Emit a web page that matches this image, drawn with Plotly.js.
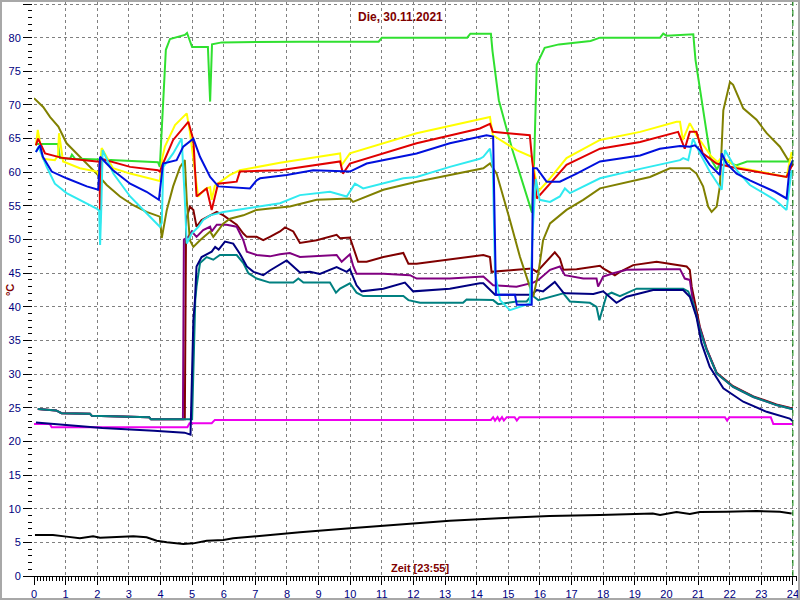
<!DOCTYPE html>
<html><head><meta charset="utf-8">
<script src="https://cdn.plot.ly/plotly-3.0.1.min.js"></script>
<style>
html,body{margin:0;padding:0;background:#fff}
#wrap{position:relative;width:800px;height:600px}
#chart{width:800px;height:600px}
#frame{position:absolute;left:0;top:0;width:800px;height:600px;box-sizing:border-box;border:2px solid #a8a8a8;pointer-events:none}
</style>
</head><body><div id="wrap"><div id="chart"></div><div id="frame"></div></div>
<script>
// Time in hours, temperature in °C
const titleText = 'Die, 30.11.2021';
const xLabel = 'Zeit [23:55]';
const yLabel = '°C';
const nowHour = 24;
const xTicks = [0,1,2,3,4,5,6,7,8,9,10,11,12,13,14,15,16,17,18,19,20,21,22,23,24];

const green = [[0.06,64.2],[0.76,64.2],[0.82,62.1],[1.14,62.0],[1.2,62.6],[1.3,62.0],[2.09,61.9],[3.92,61.5],[3.98,60.8],[4.05,68],[4.17,78.2],[4.3,79.8],[4.77,80.4],[4.84,80.7],[5.0,78.6],[5.5,78.6],[5.57,70.5],[5.63,79.0],[5.94,79.3],[8.41,79.4],[10.9,79.4],[11.0,80.0],[13.7,80.0],[13.8,80.6],[14.45,80.6],[14.5,78],[14.7,70.7],[15.13,63.3],[15.58,56.3],[15.75,54.0],[15.82,62],[15.9,76],[16.15,78.5],[16.6,79],[17.6,79.5],[17.9,80],[19.8,80],[19.9,80.6],[20.0,80.3],[20.85,80.5],[20.92,76.7],[21.4,62],[21.6,60.4],[21.75,62],[22.2,61],[22.55,61.6],[23.9,61.6]];
const yellow = [[0.06,64],[0.12,66.3],[0.28,62],[0.66,61.8],[0.76,62.5],[0.79,65.8],[0.92,61.6],[1.45,60.6],[1.99,60.1],[2.06,59.5],[2.14,63.6],[2.5,60.6],[3.04,59.8],[3.56,59.2],[3.98,58.7],[4.05,62],[4.14,63.8],[4.46,67],[4.83,68.75],[4.93,66],[5.19,56.4],[5.41,57.5],[5.57,57.8],[5.62,55.9],[5.72,58],[6.2,59.6],[6.51,60.3],[7.78,61.4],[9.68,62.8],[9.72,61],[9.99,62.8],[12.1,65.8],[14.1,67.8],[14.42,68.2],[14.51,65.5],[15.26,63.3],[15.74,62.3],[15.94,57.1],[16.32,59.1],[16.84,62.1],[17.9,64.8],[19.17,66],[20.32,67.5],[20.43,67.5],[20.52,64.8],[20.74,67.3],[20.95,65.5],[21.43,62.3],[21.63,61.5],[21.75,62.3],[22.22,60.8],[23.8,59.3],[23.96,63]];
const red = [[0.06,64],[0.13,65],[0.35,62.8],[0.92,62.1],[1.99,61.6],[2.07,61.6],[2.09,52.4],[2.12,62],[3.04,60.8],[3.92,60.3],[3.98,60.1],[4.08,61.3],[4.4,64.8],[4.88,67.5],[5.04,64.8],[5.14,56.4],[5.46,57.6],[5.62,54.4],[5.82,58.3],[6.41,58.6],[6.51,60.1],[7.78,60.3],[9.68,61.6],[9.77,59.8],[9.99,61.3],[12.1,64.3],[14.1,66.5],[14.42,67.2],[14.51,66],[15.68,65.5],[15.75,62],[15.9,56.1],[16.32,58.3],[16.84,61.1],[17.9,63.5],[19.17,64.5],[20.37,66],[20.58,63.5],[20.74,66],[20.95,66],[21.15,62.8],[21.59,61.3],[22.22,60.6],[23.8,59.3],[24.0,61.3]];
const blue = [[0.06,63],[0.19,64],[0.28,62.3],[0.56,60.1],[1.03,59.1],[1.67,57.9],[2.03,57.4],[2.09,62.3],[2.15,62],[2.5,60.3],[3.04,58.3],[3.56,57.1],[3.95,55.9],[4.08,61.3],[4.51,61.8],[4.72,63.8],[5.04,65],[5.25,62.3],[5.57,59.3],[5.83,57.9],[6.83,57.6],[7.04,58.8],[7.15,59.1],[7.99,59.6],[8.83,60.3],[9.99,60.1],[10.52,61.3],[12.1,62.8],[13.15,64.3],[14.31,65.5],[14.52,65.3],[14.61,41.8],[15.21,41.8],[15.27,40.3],[15.74,40.3],[15.78,60.6],[15.9,60.6],[16.21,58.6],[16.63,58.6],[17.16,59.8],[17.9,61.6],[19.17,62.5],[19.79,63.5],[20.43,63.9],[20.74,63.8],[20.9,64],[21.06,63.3],[21.37,61.1],[21.69,59.6],[21.75,62.8],[21.9,61.3],[22.22,59.8],[22.64,58.8],[23.06,57.9],[23.43,57.1],[23.8,56.1],[23.9,60.8],[24.0,61.8]];
const cyan = [[0.06,63],[0.14,63.8],[0.4,60.8],[0.66,58.3],[1.03,56.9],[1.45,55.9],[1.98,54.6],[2.06,54.3],[2.09,49.2],[2.13,55],[2.17,63.3],[2.51,59.8],[3.04,56.4],[3.56,53.9],[3.98,51.9],[4.04,52.5],[4.09,60.8],[4.4,62.8],[4.67,65],[4.77,55.9],[4.83,49.4],[4.99,50.9],[5.2,51.9],[5.35,52.9],[5.57,53.6],[5.99,54.1],[6.73,54.6],[7.78,55.4],[8.41,56.6],[9.36,57.1],[9.89,56.4],[10.15,58.3],[10.41,57.6],[11.68,59.1],[12.1,59.3],[13.15,60.8],[14.1,62],[14.21,62.3],[14.42,63.5],[14.51,60.8],[14.58,45],[14.74,41],[15.05,39.5],[15.37,40],[15.68,40.5],[15.78,52],[15.87,59],[15.99,55.9],[16.32,55.6],[16.63,56.4],[16.79,57.6],[16.95,56.9],[17.9,59.1],[19.17,60.5],[20.11,61.5],[20.43,61.8],[20.53,62.1],[20.69,61.8],[20.84,65],[21.06,62.8],[21.37,60.1],[21.75,57.4],[21.85,63.3],[22.22,60.3],[22.64,58.1],[23.06,56.9],[23.43,55.9],[23.8,54.4],[23.96,60.3]];
const olive = [[0,71],[0.29,69.7],[0.51,68.2],[0.77,66.8],[1.03,64.3],[1.45,62.3],[1.98,59.8],[2.3,58.1],[2.72,56.4],[3.14,55.1],[3.56,54.1],[3.98,53.4],[4.04,50.2],[4.2,54.4],[4.4,57.9],[4.62,60.8],[4.77,61.8],[4.83,55.9],[4.93,49.9],[5.04,48.9],[5.25,49.9],[5.57,51.2],[5.67,50.4],[5.99,52.4],[6.2,53.1],[6.62,53.6],[7.04,54.4],[7.46,54.6],[8.09,54.9],[8.94,55.9],[9.99,56.1],[10.09,55.6],[11.05,57.4],[12.1,58.6],[13.15,59.6],[14.21,60.6],[14.42,61.3],[14.63,59.8],[15.05,52.9],[15.37,47.4],[15.68,43],[15.79,41.5],[15.95,45],[16.1,49.9],[16.32,52.4],[16.84,54.4],[17.37,55.9],[17.9,57.6],[19.48,59.3],[20.11,60.6],[20.74,60.6],[20.95,59.8],[21.16,57.9],[21.32,54.9],[21.43,54.1],[21.59,54.9],[21.69,57.9],[21.8,69.2],[22.01,73.4],[22.11,73],[22.43,69.5],[22.85,67.8],[23.17,65.8],[23.59,63.8],[23.85,61.8],[24.0,62.3]];
const maroon = [[0.12,24.8],[0.7,24.6],[0.87,24.2],[1.77,24.1],[1.83,23.8],[3.64,23.6],[3.7,23.3],[4.77,23.3],[4.81,53],[4.93,54.9],[5.04,54.4],[5.14,51.9],[5.3,52.9],[5.57,53.6],[5.78,54.1],[5.99,53.6],[6.2,52.9],[6.41,52.2],[6.62,50.9],[6.73,50.4],[7.04,50.4],[7.25,49.9],[7.46,50.4],[7.78,51.2],[7.94,51.8],[8.2,51.2],[8.41,49.5],[8.94,49.9],[9.57,50.7],[9.68,50.2],[9.99,50.3],[10.25,46.7],[10.52,46.7],[11.05,47.4],[11.68,48],[11.84,46.4],[12.1,46.4],[13.15,47.1],[14.21,47.7],[14.42,47.4],[14.47,45.2],[15.26,45.5],[15.74,45.7],[15.9,45.2],[16.1,46.2],[16.47,48.1],[16.63,47.2],[16.74,45.5],[17.16,45.6],[17.9,46.1],[18.0,45.7],[18.37,44.7],[18.53,45.2],[18.95,46.2],[19.69,46.7],[20.43,46.2],[20.64,46],[20.74,45.5],[20.8,43],[21.06,37],[21.27,33.8],[21.59,30.2],[22.11,28.2],[22.75,26.7],[23.48,25.5],[23.9,25.0],[24.0,24.9]];
const purple = [[0.12,24.8],[0.7,24.6],[0.87,24.2],[1.77,24.1],[1.83,23.8],[3.64,23.6],[3.7,23.3],[4.71,23.3],[4.74,50],[4.88,50.4],[4.99,51.2],[5.14,50.4],[5.35,51.4],[5.57,51.9],[5.62,51.2],[5.78,52.2],[6.09,52.2],[6.41,51.9],[6.62,49.9],[6.73,48.2],[7.04,47.7],[7.46,47.5],[7.78,47.8],[8.09,48],[8.41,47.4],[9.57,47.7],[9.73,46.7],[9.99,47.8],[10.1,46],[10.2,44.9],[11.05,44.9],[11.89,44.7],[12.1,44.2],[13.15,44.2],[14.21,44.5],[14.52,43.2],[15.26,43],[15.79,43.6],[15.95,44],[16.32,45.5],[16.63,46],[16.79,44.7],[17.37,44.2],[17.79,44.2],[17.84,43],[18.0,44.5],[18.32,45],[18.74,45.5],[19.79,45.6],[20.43,45.6],[20.58,44.2],[20.74,44],[20.85,40.5],[21.06,36.8],[21.27,33.7],[21.59,30.1],[22.11,28.1],[22.75,26.6],[23.48,25.4],[23.9,24.9],[24.0,24.8]];
const navy = [[0.06,22.8],[1.03,22.4],[2.16,22.0],[3.79,21.6],[4.76,21.3],[4.95,21.0],[5.04,38],[5.09,41],[5.14,46],[5.3,47.4],[5.62,48.2],[5.73,48.9],[5.84,48.5],[6.04,49.7],[6.3,49.4],[6.51,47.9],[6.73,46],[6.94,45.2],[7.25,44.7],[7.46,45.4],[7.99,46.9],[8.41,45.1],[8.73,45.2],[9.04,44.9],[9.57,45.9],[9.89,45.2],[9.99,45.6],[10.2,43.2],[10.36,42.3],[11.05,42.7],[11.73,43.6],[11.99,42.3],[13.15,42.7],[14.1,43.5],[14.21,43.5],[14.58,41.8],[15.74,41.8],[15.9,42.5],[16.1,42.3],[16.47,43.7],[16.74,42.1],[16.84,42],[17.69,41.9],[18.0,42.3],[18.21,41.4],[18.42,40.6],[18.74,41.5],[19.58,42.5],[20.53,42.5],[20.74,41.5],[20.95,38.5],[21.11,34.6],[21.37,31.1],[21.8,27.9],[22.43,25.9],[23.17,24.4],[23.9,23.4],[24.0,23.0]];
const teal = [[0.12,24.8],[0.7,24.6],[0.87,24.2],[1.77,24.1],[1.83,23.8],[3.64,23.6],[3.7,23.3],[5.0,23.3],[5.1,41],[5.14,43],[5.25,46.5],[5.46,47.4],[5.67,47],[5.88,47.7],[6.41,47.7],[6.62,46.5],[6.78,45],[7.04,44.2],[7.46,43.6],[8.2,43.6],[8.36,44.2],[8.52,43.6],[9.36,43.6],[9.55,42.1],[9.68,42.7],[9.99,43.5],[10.2,42.1],[10.41,41.6],[11.68,41.6],[11.84,41],[12.21,40.6],[13.57,40.6],[13.68,41.1],[14.1,41.1],[14.52,41],[14.68,40.4],[15.26,40.8],[15.58,40.8],[15.74,41.75],[15.95,41],[16.32,41.5],[16.74,42],[16.95,40.8],[17.58,40.6],[17.79,40],[17.88,38],[18.0,40],[18.11,41.75],[18.27,42.1],[18.53,41.6],[19.06,42.7],[20.53,42.7],[20.69,42.3],[20.85,40.5],[21.06,36.6],[21.27,33.6],[21.59,30.1],[22.11,28.1],[22.75,26.6],[23.48,25.4],[23.9,24.9],[24.0,24.8]];
const magenta = [[0.0,22.6],[0.5,22.6],[0.56,22.1],[4.85,22.1],[4.92,22.7],[5.62,22.7],[5.72,23.2],[14.45,23.2],[14.52,23.6],[14.58,23.1],[14.66,23.6],[14.72,23.1],[14.8,23.6],[14.86,23.1],[14.95,23.6],[15.2,23.6],[15.27,23.1],[15.35,23.6],[21.85,23.6],[21.92,23.1],[21.99,23.6],[23.3,23.6],[23.38,22.6],[24.0,22.6]];
const black = [[0.03,6.1],[0.6,6.1],[1.03,5.85],[1.45,5.6],[1.87,5.9],[2.09,5.7],[3.14,5.9],[3.56,5.75],[3.88,5.25],[4.2,5.0],[4.72,4.75],[5.04,4.85],[5.46,5.25],[5.99,5.35],[6.3,5.6],[6.83,5.85],[8.41,6.5],[10.0,7.1],[11.6,7.7],[13.15,8.2],[14.7,8.6],[16.3,8.9],[17.9,9.06],[19.26,9.2],[19.57,9.3],[19.8,9.06],[20.32,9.5],[20.74,9.2],[21.06,9.5],[21.9,9.55],[22.85,9.65],[23.59,9.55],[23.96,9.3]];

const seriesList = [
  [black,'#000000'],
  [magenta,'#ee00ee'],
  [maroon,'#800000'],
  [purple,'#800080'],
  [teal,'#008080'],
  [navy,'#000080'],
  [olive,'#808000'],
  [green,'#30e030'],
  [yellow,'#ffff00'],
  [red,'#e00000'],
  [cyan,'#30eaf0'],
  [blue,'#0010dd']
];

const traces = seriesList.map(([pts,col]) => ({
  type:'scatter', mode:'lines',
  x: pts.map(p=>p[0]), y: pts.map(p=>p[1]),
  line:{color:col, width:2}, hoverinfo:'skip', showlegend:false
}));

const tickFont = {family:'Arial, Liberation Sans, sans-serif', size:11, color:'#000080'};
const labFont = {family:'Arial, Liberation Sans, sans-serif', size:11, color:'#800000'};

const layout = {
  width:800, height:600,
  paper_bgcolor:'#ffffff', plot_bgcolor:'#ffffff',
  margin:{l:34, r:3, t:2, b:24},
  showlegend:false,
  xaxis:{
    range:[0,24.13], tickvals:xTicks, ticktext:xTicks.map(String),
    ticks:'outside', ticklen:8, tickwidth:1, tickcolor:'#000',
    showgrid:true, gridcolor:'#808080', griddash:'3px,3px', gridwidth:1,
    zeroline:false, showline:true, linecolor:'#000', linewidth:1,
    tickfont:tickFont,
    minor:{dtick:0.1, ticks:'outside', ticklen:4, tickcolor:'#000', showgrid:false}
  },
  yaxis:{
    range:[0,85.3], tick0:0, dtick:5,
    ticks:'outside', ticklen:9, tickwidth:1, tickcolor:'#000',
    showgrid:true, gridcolor:'#808080', griddash:'3px,3px', gridwidth:1,
    zeroline:false, showline:true, linecolor:'#ffffff', linewidth:2,
    tickfont:tickFont,
    minor:{dtick:1, ticks:'outside', ticklen:4, tickcolor:'#000', showgrid:false}
  },
  shapes:[{type:'line', xref:'x', yref:'paper', x0:nowHour, x1:nowHour, y0:0, y1:1,
    line:{color:'#008000', width:1, dash:'6px,4px'}}],
  annotations:[
    {text:'<b>'+titleText+'</b>', xref:'paper', yref:'paper', x:0.4797, y:0.9733, showarrow:false,
     xanchor:'center', yanchor:'middle', font:{family:'Arial, Liberation Sans, sans-serif', size:12, color:'#800000'}},
    {text:'<b>'+xLabel+'</b>', xref:'paper', yref:'paper', x:0.506, y:0.014, showarrow:false,
     xanchor:'center', yanchor:'middle', font:labFont},
    {text:'<b>'+yLabel+'</b>', xref:'paper', yref:'paper', x:-0.0315, y:0.498, showarrow:false,
     textangle:-90, xanchor:'center', yanchor:'middle', font:labFont}
  ]
};

Plotly.newPlot('chart', traces, layout, {staticPlot:true, displayModeBar:false});
</script></body></html>
